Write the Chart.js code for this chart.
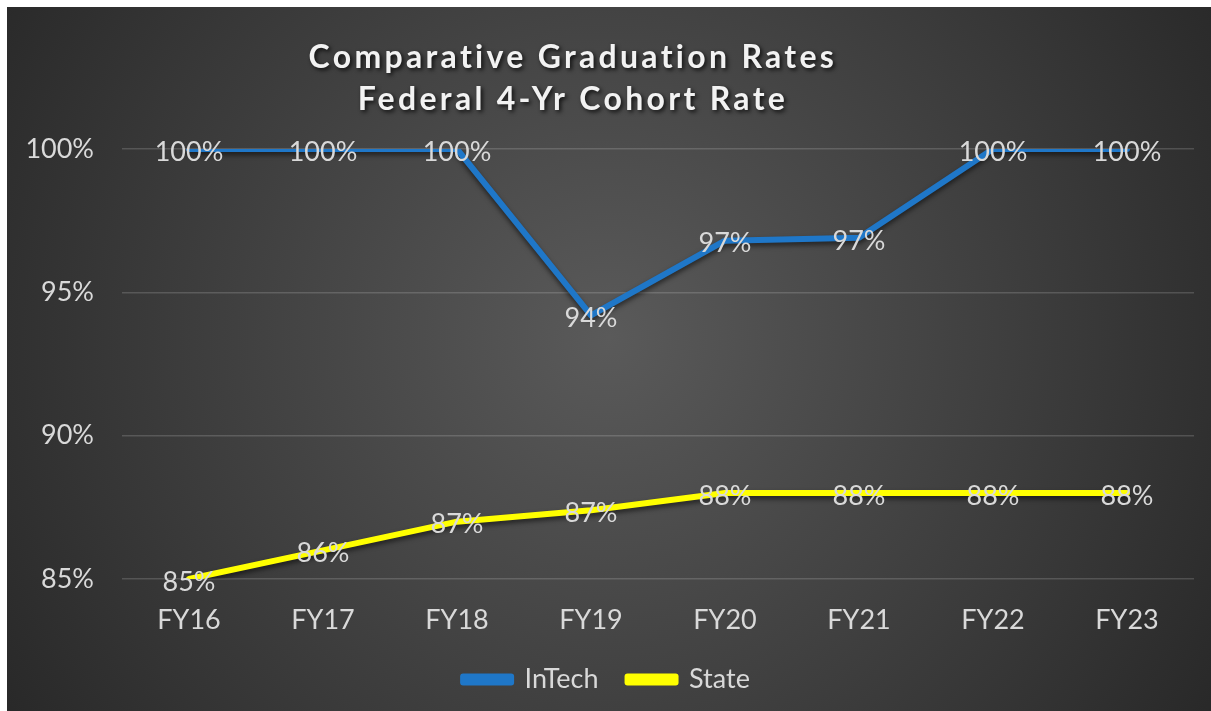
<!DOCTYPE html>
<html>
<head>
<meta charset="utf-8">
<script src="https://cdn.jsdelivr.net/npm/chart.js@4"></script>
<style>
	html, body { margin: 0; padding: 0; background: #fff; }
	#wrap { position: absolute; left: 7px; top: 7px; width: 1204px; height: 704px; }
</style>
</head>
<body>
<div id="wrap"><canvas id="chart" width="1204" height="704"></canvas></div>
<script>
// chart data
const years       = ['FY16', 'FY17', 'FY18', 'FY19', 'FY20', 'FY21', 'FY22', 'FY23'];
const intechRates = [100, 100, 100, 94.2, 96.8, 96.9, 100, 100];
const stateRates  = [85, 86, 87, 87.4, 88, 88, 88, 88];
const titleLines  = ['Comparative Graduation Rates', 'Federal 4-Yr Cohort Rate'];

const FONT = 'Lato, Calibri, "Open Sans", sans-serif';
const TEXT = '#d9d9d9';

/******************* PLUGINS **********************/

const background = {
	id: 'background',
	beforeDraw(chart) {
		const { ctx, width, height } = chart;
		const g = ctx.createRadialGradient(width * 0.5, height * 0.47, 0, width * 0.5, height * 0.47, width * 0.62);
		g.addColorStop(0, '#5a5a5a');
		g.addColorStop(1, '#262626');
		ctx.save();
		ctx.fillStyle = g;
		ctx.fillRect(0, 0, width, height);
		ctx.restore();
	}
};

const lineShadow = {
	id: 'lineShadow',
	beforeDatasetDraw(chart) {
		const ctx = chart.ctx;
		ctx.save();
		ctx.shadowColor = 'rgba(0, 0, 0, 0.55)';
		ctx.shadowBlur = 5;
		ctx.shadowOffsetY = 3;
	},
	afterDatasetDraw(chart) {
		chart.ctx.restore();
	}
};

// value labels centred on each point, like Excel's "Center" labels
const valueLabels = {
	id: 'valueLabels',
	afterDatasetsDraw(chart) {
		const ctx = chart.ctx;
		ctx.save();
		ctx.font = `27px ${FONT}`;
		ctx.fillStyle = TEXT;
		ctx.textAlign = 'center';
		ctx.textBaseline = 'middle';
		chart.data.datasets.forEach((ds, i) => {
			chart.getDatasetMeta(i).data.forEach((pt, j) => {
				ctx.fillText(Math.round(ds.data[j]) + '%', pt.x, pt.y + 3);
			});
		});
		ctx.restore();
	}
};

const shadowTitle = {
	id: 'shadowTitle',
	afterDraw(chart) {
		const ctx = chart.ctx;
		const cx = chart.width * 0.47;
		ctx.save();
		ctx.font = `bold 32px ${FONT}`;
		ctx.letterSpacing = '3.3px';
		ctx.fillStyle = '#f2f2f2';
		ctx.textAlign = 'center';
		ctx.textBaseline = 'middle';
		ctx.shadowColor = 'rgba(0, 0, 0, 0.8)';
		ctx.shadowBlur = 4;
		ctx.shadowOffsetX = 2;
		ctx.shadowOffsetY = 2;
		titleLines.forEach((line, i) => ctx.fillText(line, cx, 51 + i * 42));
		ctx.restore();
	}
};

/******************* CHART **********************/

new Chart(document.getElementById('chart'), {
	type: 'line',
	data: {
		labels: years,
		datasets: [
			{ label: 'InTech', data: intechRates, borderColor: '#1f77c8', backgroundColor: '#1f77c8' },
			{ label: 'State',  data: stateRates,  borderColor: '#ffff00', backgroundColor: '#ffff00' }
		]
	},
	options: {
		responsive: false,
		animation: false,
		layout: { padding: { top: 142, left: 12, right: 17, bottom: 8 } },
		elements: {
			line:  { borderWidth: 6, tension: 0, borderCapStyle: 'round', borderJoinStyle: 'round' },
			point: { radius: 0, hoverRadius: 0 }
		},
		plugins: {
			title: { display: false },
			tooltip: { enabled: false },
			legend: {
				position: 'bottom',
				labels: {
					color: TEXT,
					font: { family: FONT, size: 27 },
					boxWidth: 48,
					boxHeight: 6,
					padding: 29
				}
			}
		},
		scales: {
			x: {
				offset: true,
				afterFit: scale => { scale.height = 58; },
				grid: { display: false, drawTicks: false },
				border: { display: false },
				ticks: { color: TEXT, font: { family: FONT, size: 27 }, padding: 25 }
			},
			y: {
				min: 85,
				max: 100,
				afterFit: scale => { scale.width = 103; },
				grid: { color: 'rgba(255, 255, 255, 0.16)', lineWidth: 1.5, drawTicks: false },
				border: { display: false },
				ticks: {
					stepSize: 5,
					color: TEXT,
					font: { family: FONT, size: 27 },
					padding: 28,
					callback: v => v + '%'
				}
			}
		}
	},
	plugins: [background, lineShadow, valueLabels, shadowTitle]
});
</script>
</body>
</html>
